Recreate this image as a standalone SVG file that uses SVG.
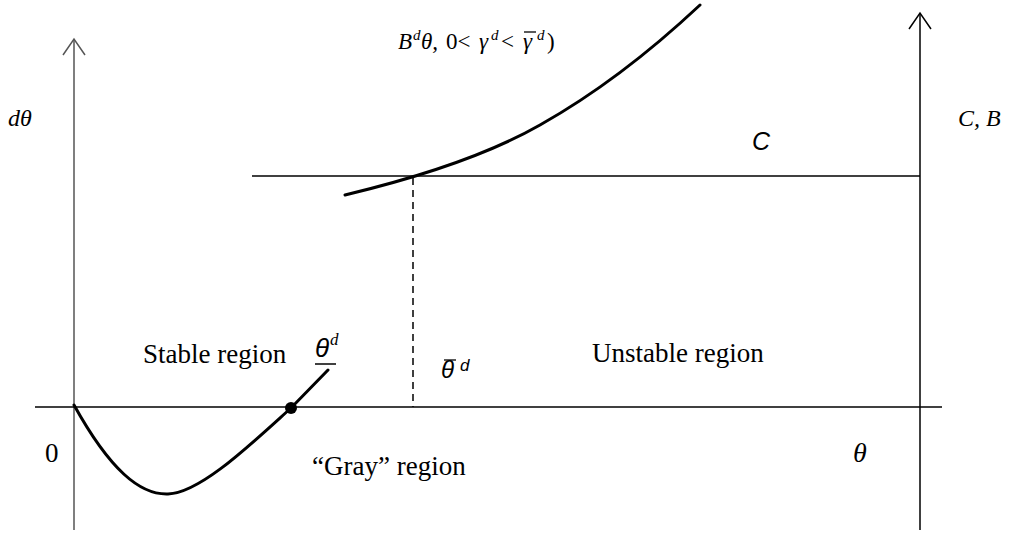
<svg xmlns="http://www.w3.org/2000/svg" width="1012" height="535" viewBox="0 0 1012 535">
<style>
.ax{stroke:#000;stroke-width:1.5;fill:none}
.axg{stroke:#555;stroke-width:1.5;fill:none}
.cv{stroke:#000;stroke-width:3;fill:none;stroke-linecap:round}
.bar{stroke:#000;stroke-width:1.3;fill:none}
.t{font-family:"Liberation Serif",serif;font-size:27px;fill:#000}
.ti{font-family:"Liberation Serif",serif;font-style:italic;fill:#000}
.tr{font-family:"Liberation Serif",serif;fill:#000}
.si{font-family:"Liberation Sans",sans-serif;font-style:italic;fill:#000}
.tl{font-size:23px}
.sup{font-size:15px}
</style>
<rect width="1012" height="535" fill="#fff"/>
<g id="connectors">
<path class="axg" d="M74,530 V40"/>
<path class="axg" d="M63,55 L74,39 L85,55"/>
<path class="ax" d="M920,530 V13"/>
<path class="ax" d="M909,29 L920,13 L931,29"/>
<path class="ax" d="M35,407 H942"/>
<path class="ax" d="M252,176 H920"/>
<path class="ax" d="M413,178 V407" stroke-dasharray="7,5"/>
<path class="cv" d="M345,195 Q470,165 540,125 Q620,80 700,5"/>
<path class="cv" d="M74,405 C110,470 140,495 168,494 C200,493 250,445 291,408 L328,370"/>
<circle cx="291" cy="408" r="6" fill="#000"/>
</g>
<g id="labels">
<text class="ti" x="8" y="126" font-size="24">dθ</text>
<text class="ti" x="958" y="126" font-size="24">C, B</text>
<text class="si" x="752" y="150" font-size="25">C</text>
<g id="top-label">
<text class="ti tl" x="398" y="49">B</text>
<text class="ti sup" x="413" y="40">d</text>
<text class="ti tl" x="421" y="49">θ,</text>
<text class="tr tl" x="446" y="49">0&lt;</text>
<text class="ti tl" x="479" y="49">γ</text>
<text class="ti sup" x="491" y="40">d</text>
<text class="tr tl" x="501" y="49">&lt;</text>
<text class="ti tl" x="523" y="49">γ</text>
<path class="bar" d="M524,32 H536"/>
<text class="ti sup" x="537" y="40">d</text>
<text class="tr tl" x="547" y="49">)</text>
</g>
<text class="t" x="143" y="363">Stable region</text>
<text class="si" x="315" y="357" font-size="26">θ</text>
<text class="ti" x="330" y="345" font-size="17">d</text>
<path class="ax" d="M315,364 H336" stroke-width="2"/>
<text class="si" x="441" y="378" font-size="24">θ</text>
<path class="bar" d="M444,360 H456"/>
<text class="si" x="460" y="371" font-size="17">d</text>
<text class="t" x="592" y="362">Unstable region</text>
<text class="t" x="45" y="462" font-size="28">0</text>
<text class="t" x="312" y="475">“Gray” region</text>
<text class="ti" x="853" y="462" font-size="28">θ</text>
</g>
</svg>
